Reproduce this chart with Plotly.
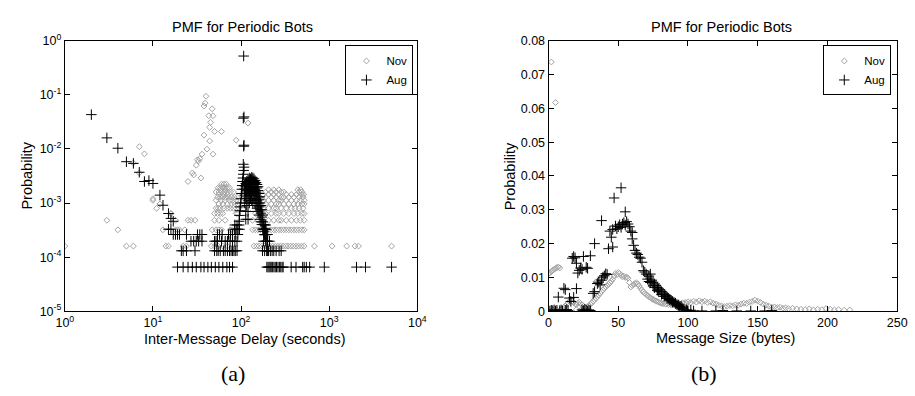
import plotly.graph_objects as go

# ---------------- LEFT PANEL DATA: inter-message delay (log-log) ----------------
# Nov: quantised probability levels and the delays (s) where a point appears
nov_delay_levels = [1.6e-4, 3.2e-4, 4.8e-4, 6.4e-4, 8.0e-4, 9.6e-4, 1.12e-3,
                    1.28e-3, 1.44e-3, 1.6e-3, 1.76e-3, 1.92e-3, 2.24e-3]
nov_delay_x_by_level = [
    [1, 5, 6, 14, 15, 22, 24, 46, 50, 55, 62, 70, 140, 150, 160, 172, 185, 198, 212, 228,
     245, 262, 280, 300, 320, 340, 365, 390, 420, 450, 485, 520, 680, 1080, 1580, 1960, 2150, 5100],
    [4, 13, 18, 19, 20, 23, 47, 52, 56, 60, 75, 78, 135, 145, 155, 165, 178, 190, 205, 220,
     235, 250, 268, 285, 305, 325, 348, 372, 398, 425, 455, 490, 520],
    [3, 18, 25, 27, 30, 50, 56, 66, 135, 155, 178, 205, 235, 268, 285, 325, 372, 425, 470, 520],
    [16, 50, 54, 58, 62, 88, 92, 145, 165, 190, 220, 250, 268, 305, 348, 398, 440, 490, 520],
    [11, 52, 55, 58, 64, 70, 76, 82, 88, 95, 155, 178, 205, 235, 250, 285, 325, 372, 410, 455, 505],
    [56, 62, 70, 78, 85, 92, 165, 190, 220, 250, 268, 305, 348, 398, 440, 490, 520],
    [10, 52, 60, 66, 74, 80, 88, 178, 205, 235, 268, 285, 325, 372, 425, 470, 520],
    [54, 58, 62, 67, 72, 78, 84, 90, 165, 190, 220, 250, 285, 305, 348, 398, 455, 505],
    [56, 64, 70, 178, 205, 235, 268, 325, 372, 425, 490, 515],
    [52, 56, 60, 65, 70, 76, 82, 190, 220, 250, 285, 305, 455, 490],
    [58, 66, 205, 235, 268, 440, 475],
    [55, 58, 62, 66, 70, 74],
    [60, 64, 68],
]
nov_delay_extra_x = [7, 8, 28, 29, 31, 32, 33, 34, 36, 38, 38, 39, 40, 41, 43, 44, 44,
                     45, 47, 48, 48, 50, 60, 88, 120, 6, 7, 10, 12, 16, 25, 35]
nov_delay_extra_p = [0.011, 0.0081, 0.0036, 0.0033, 0.005, 0.0063, 0.006, 0.0066, 0.008,
                     0.018, 0.062, 0.07, 0.094, 0.0099, 0.041, 0.014, 0.025, 0.031, 0.055,
                     0.041, 0.008, 0.021, 0.021, 0.0145, 0.030, 0.0055, 0.0036, 0.0012,
                     0.00096, 0.00064, 0.0025, 0.0029]

# Aug: quantised low levels
aug_delay_levels = [6.55e-5, 1.31e-4, 1.97e-4, 2.62e-4, 3.28e-4, 3.93e-4]
aug_delay_x_by_level = [
    [19, 22, 25, 28, 31, 35, 38, 42, 46, 51, 56, 62, 69, 74, 80, 196, 202, 208,
     214, 220, 228, 236, 244, 252, 262, 272, 282, 292, 300, 370, 420, 500,
     520, 550, 600, 880, 2040, 2580, 5100],
    [21, 22, 24, 30, 50, 53, 55, 58, 63, 66, 70, 74, 77, 80, 83, 86, 90, 175, 185, 195,
     200, 205, 215, 225, 235, 250, 270, 285],
    [27, 29, 31, 33, 36, 50, 52, 54, 60, 66, 70, 75, 80, 85, 90, 180, 190, 196, 200, 210],
    [17, 18, 19, 20, 24, 32, 34, 36, 54, 57, 61, 72, 76, 80, 86, 92, 185, 190, 195, 200],
    [15, 16, 84, 88, 92, 96, 180, 186, 192],
    [85, 90, 95, 186, 190],
]
aug_delay_extra_x = [2, 3, 4, 5, 6, 7, 8, 9, 10, 12, 13, 15, 16, 17,
                     107, 108, 106, 108, 107, 106, 108, 107, 106, 105, 104, 103, 102, 101,
                     100, 99, 98, 97, 96, 95]
aug_delay_extra_p = [0.043, 0.016, 0.0103, 0.0058, 0.0054, 0.0037, 0.0025, 0.0026, 0.0023,
                     0.0014, 0.00091, 0.00064, 0.00052, 0.00046,
                     0.52, 0.039, 0.037, 0.0117, 0.0112, 0.0052, 0.0046, 0.0040, 0.0034,
                     0.0029, 0.0025, 0.0021, 0.0018, 0.0015, 0.0012, 0.001, 0.00085,
                     0.00072, 0.00059, 0.00046]
# Aug dense peak: delay columns and the probabilities seen in each column
aug_peak_x = [110, 113, 116, 120, 124, 128, 132, 136, 140, 144, 148, 152, 156, 160,
              164, 168, 172, 176, 180, 185, 190]
aug_peak_p = [
    [0.001, 0.0014, 0.0018, 0.0021],
    [0.0005, 0.0007, 0.0012, 0.0016, 0.002, 0.0023],
    [0.0009, 0.0013, 0.0017, 0.0022, 0.0025],
    [0.0005, 0.0007, 0.0011, 0.0015, 0.0019, 0.0024, 0.0027],
    [0.001, 0.0014, 0.0018, 0.0022, 0.0026, 0.0029],
    [0.0012, 0.0016, 0.002, 0.0024, 0.0028],
    [0.0011, 0.0015, 0.0019, 0.0023, 0.0027, 0.003],
    [0.001, 0.0014, 0.0018, 0.0022, 0.0026, 0.0029],
    [0.0012, 0.0016, 0.002, 0.0025, 0.0028],
    [0.001, 0.0014, 0.0018, 0.0023, 0.0026],
    [0.0009, 0.0012, 0.0016, 0.002, 0.0024],
    [0.0008, 0.0011, 0.0015, 0.0019, 0.0022],
    [0.0007, 0.001, 0.0013, 0.0017, 0.002],
    [0.0006, 0.00085, 0.00115, 0.0015],
    [0.0005, 0.00075, 0.001, 0.0013],
    [0.00045, 0.00065, 0.0009],
    [0.0004, 0.00055, 0.00075],
    [0.00033, 0.00045, 0.0006],
    [0.0003, 0.0004],
    [0.00026, 0.00033],
    [0.00026],
]

# ---------------- RIGHT PANEL DATA: message size (linear) ----------------
nov_size_x = [2, 5, 0, 1, 2, 3, 4, 5, 6, 7, 8,
              0, 3, 6, 9, 10, 11, 12, 13, 14, 15, 16, 17, 18, 19, 20, 21, 22, 23, 24, 25,
              26, 27, 28, 29, 30,
              31, 32, 33, 34, 35, 36, 37, 38, 39, 40, 41, 42, 43, 44, 45, 46, 47, 48, 49, 50,
              51, 52, 53, 54, 55, 56, 57, 58, 59, 60, 61, 62, 63, 64, 65, 66, 67, 68, 69, 70,
              71, 72, 73, 74, 75, 76, 77, 78, 79, 80,
              81, 82, 83, 84, 85, 86, 87, 88, 89, 90, 91, 92, 93, 94, 95, 96, 97, 98, 99, 100,
              102, 104, 106, 108, 110, 112, 114, 116, 118, 120, 122, 124, 126, 128, 130,
              132, 134, 136, 138, 140, 142, 144, 146, 148, 150, 152, 154, 156, 158, 160,
              162, 164, 166, 168, 170, 172, 175, 178, 181, 184, 187, 190, 193, 196, 199,
              202, 205, 208, 212, 216,
              34, 36, 38, 40, 20, 23, 26, 29]
nov_size_p = [0.0737, 0.0617, 0.0112, 0.0114, 0.0117, 0.0121, 0.0124, 0.0127, 0.0129, 0.0131, 0.0128,
              0.0003, 0.0004, 0.0003, 0.0006, 0.0009, 0.0012, 0.0016, 0.002, 0.0025, 0.003,
              0.0033, 0.0029, 0.0026, 0.0022, 0.002, 0.0024, 0.0027, 0.0023, 0.0019, 0.0015,
              0.0012, 0.001, 0.0013, 0.0017, 0.0021,
              0.0025, 0.003, 0.0034, 0.0038, 0.0043, 0.0048, 0.0053, 0.0058, 0.0063, 0.0068,
              0.0072, 0.0076, 0.008, 0.0084, 0.0089, 0.0095, 0.0104, 0.0112, 0.0108, 0.0115,
              0.0112, 0.0106, 0.0102, 0.0104, 0.01, 0.0101, 0.0098, 0.0085, 0.0072, 0.0076,
              0.0079, 0.0082, 0.0084, 0.0081, 0.0075, 0.0068, 0.0062, 0.0057, 0.0053, 0.005,
              0.0046, 0.0043, 0.004, 0.0037, 0.0035, 0.0033, 0.003, 0.0029, 0.0027, 0.0025,
              0.0024, 0.0022, 0.0025, 0.0021, 0.0023, 0.002, 0.0022, 0.0018, 0.002, 0.0022,
              0.0019, 0.0017, 0.002, 0.0023, 0.0021, 0.0025, 0.0022, 0.0026, 0.0024, 0.0028,
              0.0026, 0.003, 0.0027, 0.0031, 0.0028, 0.003, 0.0026, 0.0028, 0.0024, 0.0021,
              0.0018, 0.0016, 0.0014, 0.0015, 0.0017,
              0.0016, 0.0019, 0.0018, 0.0021, 0.0024, 0.0023, 0.0027, 0.0029, 0.0033, 0.003,
              0.0026, 0.0021, 0.0018, 0.0015, 0.0012,
              0.0013, 0.0011, 0.0012, 0.0009, 0.001, 0.0008, 0.0009, 0.0007, 0.0006, 0.0005,
              0.0007, 0.0004, 0.0006, 0.0005, 0.0008,
              0.0006, 0.0004, 0.0005, 0.0003, 0.0004,
              0.0087, 0.0092, 0.0099, 0.0104, 0.0005, 0.0003, 0.0004, 0.0006]

aug_size_x = [0, 1, 2, 3, 4, 5, 6, 8, 9, 10, 12, 13, 14, 24, 25, 26, 27, 28, 29, 30,
              7, 11, 12, 15, 16, 18, 20,
              17, 18, 19, 20, 21, 22, 23, 24, 25, 27, 28, 30,
              32, 33, 35, 36, 37, 38, 39, 40, 41, 42,
              33, 38, 43, 45, 46, 44, 46, 47, 48, 49, 50, 51, 52, 52, 53, 54, 55, 55, 56, 57,
              58, 59, 60, 60, 61, 62, 63, 64, 65, 66, 67, 68, 69, 70, 72, 73,
              74, 75, 76, 77, 78, 79, 80, 81, 82, 83, 84, 85, 86, 87, 88, 89, 90, 91, 92, 93,
              94, 95, 96, 97, 99, 100, 102, 104,
              71, 72, 73, 75, 76, 78, 79, 81, 83, 85, 87, 89, 91, 93, 95,
              110, 120, 125, 135, 145, 155, 160]
aug_size_p = [0.0002, 0.0001, 0.0003, 0.0002, 0.0004, 0.0001, 0.0003, 0.0002, 0.0004, 0.0001,
              0.0003, 0.0005, 0.0002, 0.0004, 0.0002, 0.0006, 0.0003, 0.0001, 0.0004, 0.0002,
              0.0042, 0.0068, 0.0064, 0.0039, 0.0029, 0.0041, 0.0067,
              0.0157, 0.0162, 0.0158, 0.0142, 0.0113, 0.0121, 0.0128, 0.0124, 0.0162, 0.013,
              0.0127, 0.0164,
              0.0053, 0.0058, 0.0082, 0.0086, 0.0078, 0.0092, 0.0101, 0.0105, 0.0111, 0.0109,
              0.020, 0.0268, 0.0185, 0.0219, 0.019, 0.0237, 0.0242, 0.0335, 0.0252, 0.0244,
              0.025, 0.0256, 0.0365, 0.0248, 0.0258, 0.0262, 0.0294, 0.0255, 0.0265, 0.0258,
              0.025, 0.0237, 0.0233, 0.0214, 0.0195, 0.018, 0.0172, 0.0168, 0.016, 0.0157,
              0.0145, 0.012, 0.0116, 0.011, 0.0104, 0.011,
              0.0092, 0.0086, 0.0081, 0.0076, 0.007, 0.0066, 0.0063, 0.0058, 0.0054, 0.005,
              0.0046, 0.0042, 0.0038, 0.0035, 0.0032, 0.0029, 0.0026, 0.0023, 0.002, 0.0017,
              0.0014, 0.0011, 0.0008, 0.0006, 0.0004, 0.0002, 0.0003, 0.0001,
              0.0095, 0.0088, 0.0085, 0.0075, 0.007, 0.0062, 0.0058, 0.005, 0.0044, 0.0038,
              0.0033, 0.0027, 0.0024, 0.0019, 0.0015,
              0.0001, 0.0001, 0.0002, 0.0001, 0.0001, 0.0001, 0.0002]

log_tick_vals_x = [1, 10, 100, 1000, 10000]
log_tick_text_x = ["10<sup>0</sup>", "10<sup>1</sup>", "10<sup>2</sup>", "10<sup>3</sup>", "10<sup>4</sup>"]
log_tick_vals_y = [1e-5, 1e-4, 1e-3, 1e-2, 1e-1, 1]
log_tick_text_y = ["10<sup>-5</sup>", "10<sup>-4</sup>", "10<sup>-3</sup>", "10<sup>-2</sup>",
                   "10<sup>-1</sup>", "10<sup>0</sup>"]

# ---------------- build flat series ----------------
def flatten_levels(levels, x_lists):
    xs, ps = [], []
    for p, xl in zip(levels, x_lists):
        for x in xl:
            xs.append(x)
            ps.append(p)
    return xs, ps

nov_dx, nov_dp = flatten_levels(nov_delay_levels, nov_delay_x_by_level)
nov_dx += nov_delay_extra_x
nov_dp += nov_delay_extra_p

aug_dx, aug_dp = flatten_levels(aug_delay_levels, aug_delay_x_by_level)
aug_dx += aug_delay_extra_x
aug_dp += aug_delay_extra_p
for x, plist in zip(aug_peak_x, aug_peak_p):
    for p in plist:
        aug_dx.append(x)
        aug_dp.append(p)

FONT = "Liberation Sans"
GRAY = "#a3a3a3"
nov_marker = dict(symbol="diamond-open", size=4.5, color=GRAY, line=dict(width=1, color=GRAY))
aug_marker = dict(symbol="cross-thin", size=7.5, color="black", line=dict(width=1, color="black"))

fig = go.Figure()
fig.add_trace(go.Scatter(x=nov_dx, y=nov_dp, mode="markers", name="Nov", marker=nov_marker,
                         xaxis="x", yaxis="y", legend="legend"))
fig.add_trace(go.Scatter(x=aug_dx, y=aug_dp, mode="markers", name="Aug", marker=aug_marker,
                         xaxis="x", yaxis="y", legend="legend"))
fig.add_trace(go.Scatter(x=nov_size_x, y=nov_size_p, mode="markers", name="Nov", marker=nov_marker,
                         xaxis="x2", yaxis="y2", legend="legend2"))
fig.add_trace(go.Scatter(x=aug_size_x, y=aug_size_p, mode="markers", name="Aug", marker=aug_marker,
                         xaxis="x2", yaxis="y2", legend="legend2"))

W, H = 915, 396
def px(x):
    return x / W
def py(y):
    return 1 - y / H

axis_common = dict(showline=True, linecolor="black", linewidth=1, mirror="allticks",
                   ticks="inside", ticklen=5, tickcolor="black", showgrid=False, zeroline=False,
                   tickfont=dict(family=FONT, size=12.5, color="black"))
minor_common = dict(showline=True, linecolor="black", linewidth=1, mirror="allticks",
                    ticks="inside", ticklen=3, tickcolor="black", showgrid=False,
                    zeroline=False, showticklabels=False, type="log", dtick="D1")

TXT = 14.5
fig.update_layout(
    width=W, height=H, margin=dict(l=0, r=0, t=0, b=0),
    paper_bgcolor="white", plot_bgcolor="white", showlegend=True,
    font=dict(family=FONT, size=12, color="black"),
    xaxis=dict(axis_common, type="log", domain=[px(57), px(417)], anchor="y",
               range=[0, 4], tickvals=log_tick_vals_x, ticktext=log_tick_text_x),
    yaxis=dict(axis_common, type="log", domain=[py(315), py(33)], anchor="x",
               range=[-5, 0], tickvals=log_tick_vals_y, ticktext=log_tick_text_y),
    xaxis3=dict(minor_common, overlaying="x", anchor="y", side="bottom", range=[0, 4],
                domain=[px(57), px(417)]),
    yaxis3=dict(minor_common, overlaying="y", anchor="x", side="left", range=[-5, 0],
                domain=[py(315), py(33)]),
    xaxis2=dict(axis_common, domain=[px(551), px(907)], anchor="y2", range=[0, 250],
                dtick=50, tick0=0),
    yaxis2=dict(axis_common, domain=[py(315), py(33)], anchor="x2", range=[0, 0.08],
                dtick=0.01, tick0=0),
    legend=dict(x=px(413), y=py(38), xanchor="right", yanchor="top", bgcolor="white",
                bordercolor="black", borderwidth=1, font=dict(family=FONT, size=11.5),
                itemwidth=30, tracegroupgap=0),
    legend2=dict(x=px(901), y=py(38), xanchor="right", yanchor="top", bgcolor="white",
                 bordercolor="black", borderwidth=1, font=dict(family=FONT, size=11.5),
                 itemwidth=30, tracegroupgap=0),
)

ann = [
    dict(text="PMF for Periodic Bots", x=px(238), y=py(19), font=dict(family=FONT, size=TXT)),
    dict(text="PMF for Periodic Bots", x=px(728), y=py(19), font=dict(family=FONT, size=TXT)),
    dict(text="Inter-Message Delay (seconds)", x=px(240), y=py(344), font=dict(family=FONT, size=TXT)),
    dict(text="Message Size (bytes)", x=px(732), y=py(343), font=dict(family=FONT, size=TXT)),
    dict(text="Probability", x=px(18), y=py(174), textangle=-90, font=dict(family=FONT, size=TXT)),
    dict(text="Probability", x=px(512), y=py(174), textangle=-90, font=dict(family=FONT, size=TXT)),
    dict(text="(a)", x=px(229), y=py(380), font=dict(family="Liberation Serif", size=22)),
    dict(text="(b)", x=px(710), y=py(380), font=dict(family="Liberation Serif", size=22)),
]
for a in ann:
    a.update(xref="paper", yref="paper", showarrow=False, xanchor="center", yanchor="middle")
    fig.add_annotation(**a)

fig.write_html("out.html")
